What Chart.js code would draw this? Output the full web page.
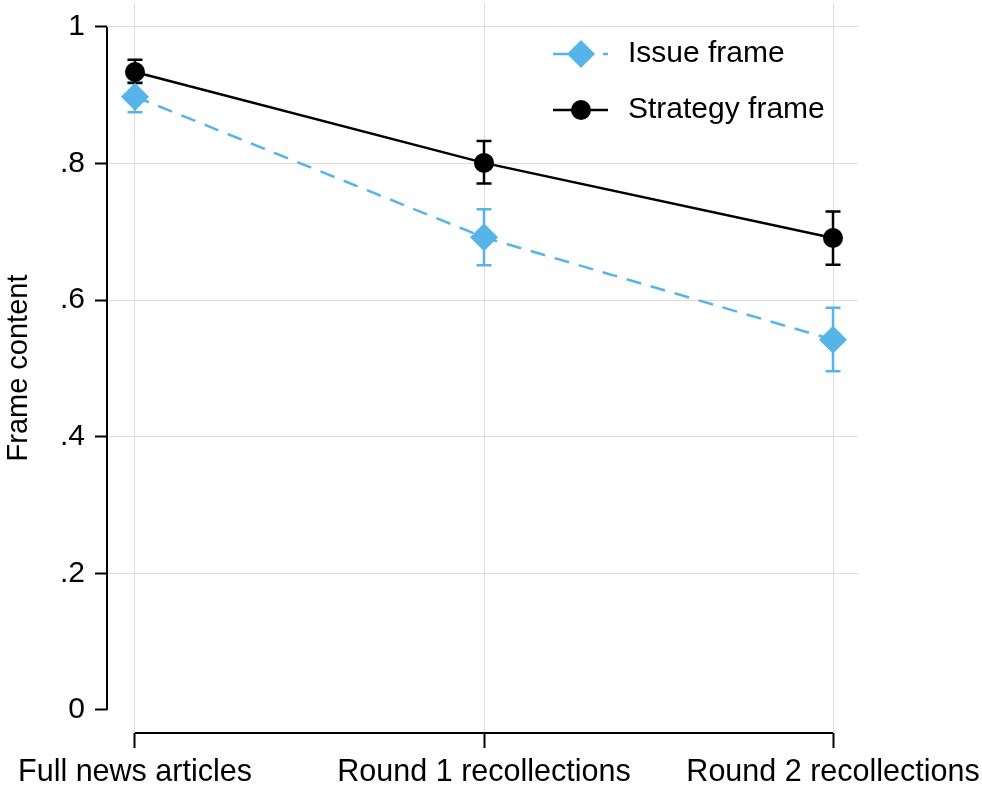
<!DOCTYPE html>
<html>
<head>
<meta charset="utf-8">
<script src="https://cdn.jsdelivr.net/npm/chart.js@4.4.1/dist/chart.umd.min.js"></script>
<style>
html,body{margin:0;padding:0;background:#fff;}
#wrap{width:982px;height:788px;position:relative;}
</style>
</head>
<body>
<div id="wrap"><canvas id="c" width="982" height="788"></canvas></div>
<script>
const categories = ['Full news articles', 'Round 1 recollections', 'Round 2 recollections'];
const yTickValues = [0, 0.2, 0.4, 0.6, 0.8, 1];
const yTickLabels = ['0', '.2', '.4', '.6', '.8', '1'];
const seriesNames = ['Issue frame', 'Strategy frame'];
const issueMean = [0.898, 0.692, 0.542];
const issueLow = [0.875, 0.651, 0.496];
const issueHigh = [0.919, 0.733, 0.589];
const strategyMean = [0.934, 0.801, 0.691];
const strategyLow = [0.918, 0.771, 0.652];
const strategyHigh = [0.952, 0.833, 0.730];

const BLUE = '#56b4e9';
const FONT = 'Liberation Sans, Arial, sans-serif';

const toPts = arr => arr.map((v, i) => ({x: i, y: v}));

const errorBars = {
  id: 'errorBars',
  beforeDatasetsDraw(chart) {
    const ctx = chart.ctx, xs = chart.scales.x, ys = chart.scales.y;
    const sets = [
      {lo: issueLow, hi: issueHigh, color: BLUE},
      {lo: strategyLow, hi: strategyHigh, color: '#000'}
    ];
    ctx.save();
    sets.forEach(s => {
      ctx.strokeStyle = s.color;
      ctx.lineWidth = 2.5;
      s.lo.forEach((lo, i) => {
        const x = xs.getPixelForValue(i);
        const y1 = ys.getPixelForValue(lo), y2 = ys.getPixelForValue(s.hi[i]);
        ctx.beginPath();
        ctx.moveTo(x, y1); ctx.lineTo(x, y2);
        ctx.moveTo(x - 7.5, y1); ctx.lineTo(x + 7.5, y1);
        ctx.moveTo(x - 7.5, y2); ctx.lineTo(x + 7.5, y2);
        ctx.stroke();
      });
    });
    ctx.restore();
  }
};

const axisLines = {
  id: 'axisLines',
  afterDraw(chart) {
    const ctx = chart.ctx, xs = chart.scales.x, ys = chart.scales.y, a = chart.chartArea;
    ctx.save();
    ctx.strokeStyle = '#000';
    ctx.lineWidth = 2;
    ctx.beginPath();
    ctx.moveTo(a.left, ys.getPixelForValue(yTickValues[yTickValues.length - 1]));
    ctx.lineTo(a.left, ys.getPixelForValue(yTickValues[0]));
    ctx.moveTo(xs.getPixelForValue(0), a.bottom);
    ctx.lineTo(xs.getPixelForValue(categories.length - 1), a.bottom);
    ctx.stroke();
    ctx.restore();
  }
};

const legendBox = {
  id: 'legendBox',
  afterDraw(chart) {
    const ctx = chart.ctx;
    ctx.save();
    const x0 = 553, x1 = 608, mx = 581, tx = 628;
    const rows = [54, 110];
    ctx.strokeStyle = BLUE; ctx.lineWidth = 2.5; ctx.setLineDash([15, 10]);
    ctx.beginPath(); ctx.moveTo(x0, rows[0]); ctx.lineTo(x1, rows[0]); ctx.stroke();
    ctx.setLineDash([]);
    ctx.fillStyle = BLUE;
    ctx.beginPath();
    ctx.moveTo(mx, rows[0] - 14); ctx.lineTo(mx + 14, rows[0]); ctx.lineTo(mx, rows[0] + 14); ctx.lineTo(mx - 14, rows[0]);
    ctx.closePath(); ctx.fill();
    ctx.strokeStyle = '#000';
    ctx.beginPath(); ctx.moveTo(x0, rows[1]); ctx.lineTo(x1, rows[1]); ctx.stroke();
    ctx.fillStyle = '#000';
    ctx.beginPath(); ctx.arc(mx, rows[1], 10, 0, Math.PI * 2); ctx.fill();
    ctx.font = '30px ' + FONT;
    ctx.textBaseline = 'middle';
    ctx.textAlign = 'left';
    ctx.fillText(seriesNames[0], tx, rows[0]);
    ctx.fillText(seriesNames[1], tx, rows[1]);
    ctx.restore();
  }
};

new Chart(document.getElementById('c'), {
  type: 'line',
  data: {
    datasets: [
      {
        label: seriesNames[0],
        data: toPts(issueMean),
        borderColor: BLUE,
        backgroundColor: BLUE,
        borderWidth: 2.5,
        borderDash: [15, 10],
        pointStyle: 'rectRot',
        pointRadius: 14,
        pointBorderWidth: 0,
        pointBackgroundColor: BLUE,
        tension: 0
      },
      {
        label: seriesNames[1],
        data: toPts(strategyMean),
        borderColor: '#000',
        backgroundColor: '#000',
        borderWidth: 2.5,
        pointStyle: 'circle',
        pointRadius: 10,
        pointBorderWidth: 0,
        pointBackgroundColor: '#000',
        tension: 0
      }
    ]
  },
  options: {
    responsive: false,
    animation: false,
    events: [],
    layout: {autoPadding: false, padding: {top: 3, right: 124, left: 0, bottom: 0}},
    plugins: {legend: {display: false}, tooltip: {enabled: false}},
    scales: {
      x: {
        type: 'linear',
        min: -0.0802,
        max: 2.0716,
        afterBuildTicks: s => { s.ticks = categories.map((c, i) => ({value: i})); },
        afterFit: s => { s.height = 55; s.paddingLeft = 0; s.paddingRight = 0; s.paddingTop = 0; s.paddingBottom = 0; },
        ticks: {
          callback: (v) => categories[v],
          color: '#000',
          font: {family: FONT, size: 30.5},
          padding: 6,
          maxRotation: 0,
          autoSkip: false
        },
        grid: {color: '#dcdcdc', lineWidth: 1, tickColor: '#000', tickWidth: 2, tickLength: 15},
        border: {display: false}
      },
      y: {
        type: 'linear',
        min: -0.0337,
        max: 1.0351,
        afterBuildTicks: s => { s.ticks = yTickValues.map(v => ({value: v})); },
        afterFit: s => { s.width = 107; s.paddingLeft = 0; s.paddingRight = 0; s.paddingTop = 0; s.paddingBottom = 0; },
        ticks: {
          callback: (v) => { const i = yTickValues.findIndex(t => Math.abs(t - v) < 1e-9); return i >= 0 ? yTickLabels[i] : ''; },
          color: '#000',
          font: {family: FONT, size: 30},
          padding: 10
        },
        grid: {
          color: c => (c.tick && c.tick.value === 0) ? 'rgba(0,0,0,0)' : '#dcdcdc',
          lineWidth: 1, tickColor: '#000', tickWidth: 2, tickLength: 12
        },
        border: {display: false},
        title: {display: true, text: 'Frame content', color: '#000', font: {family: FONT, size: 29}, padding: {top: 2, bottom: 0}}
      }
    }
  },
  plugins: [errorBars, axisLines, legendBox]
});
</script>
</body>
</html>
